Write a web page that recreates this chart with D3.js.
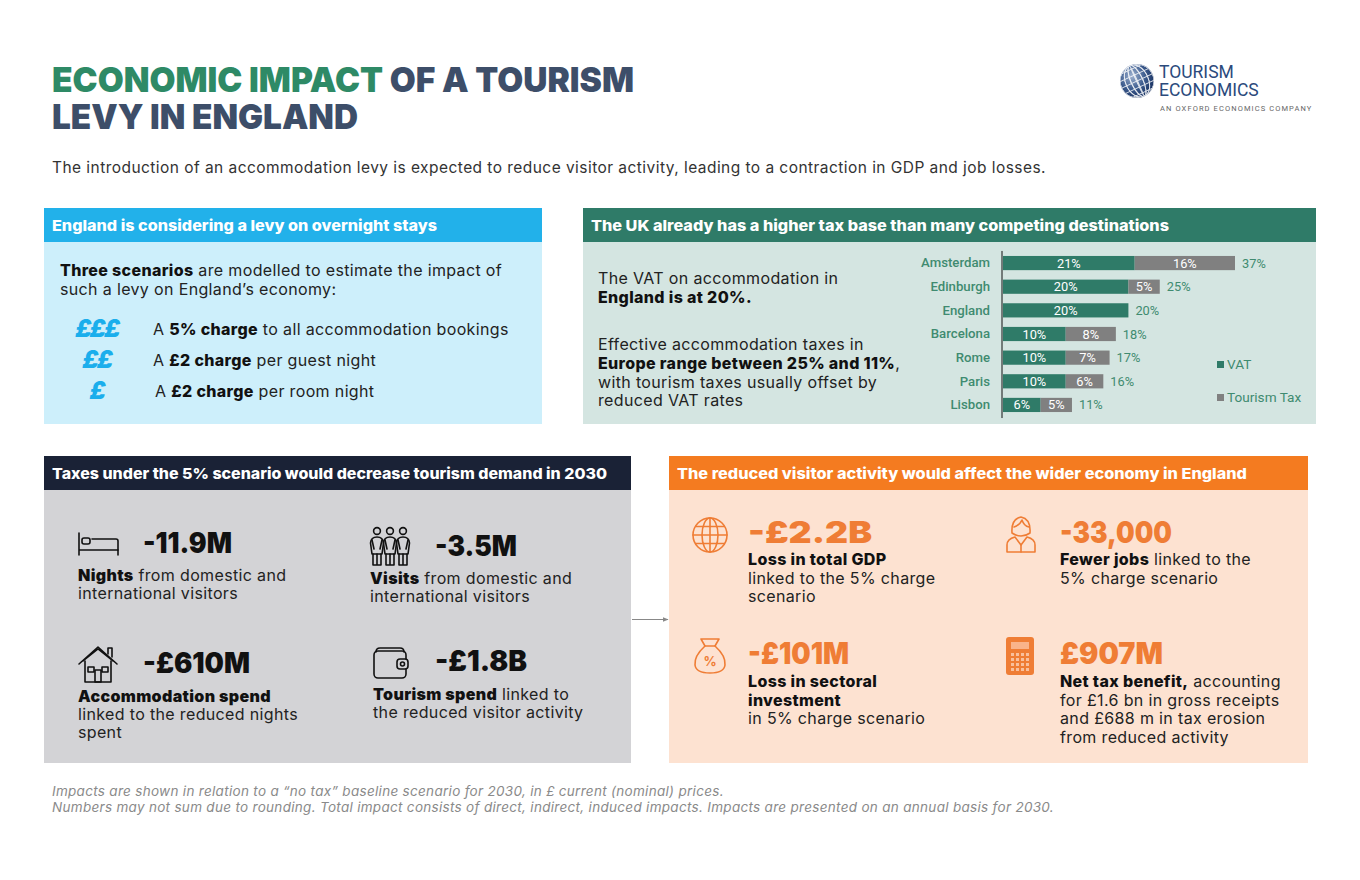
<!DOCTYPE html>
<html>
<head>
<meta charset="utf-8">
<script src="https://cdn.jsdelivr.net/npm/d3@7"></script>
<style>
body { margin: 0; background: #fff; }
svg { display: block; }
text { white-space: pre; }
</style>
</head>
<body>
<div id="chart"></div>
<script>
// ---- data ----
const cities = ["Amsterdam", "Edinburgh", "England", "Barcelona", "Rome", "Paris", "Lisbon"]
const vat = [21, 20, 20, 10, 10, 10, 6]
const tourismTax = [16, 5, 0, 8, 7, 6, 5]
const seriesNames = ["VAT", "Tourism Tax"]

const scenarioIcons = ["£££", "££", "£"]
const scenarioText = [
    "A **5% charge** to all accommodation bookings",
    "A **£2 charge** per guest night",
    "A **£2 charge** per room night"
]

const demandValues = ["-11.9M", "-3.5M", "-£610M", "-£1.8B"]
const demandIcons = ["bed", "people", "house", "wallet"]
const demandText = [
    ["**Nights** from domestic and", "international visitors"],
    ["**Visits** from domestic and", "international visitors"],
    ["**Accommodation spend**", "linked to the reduced nights", "spent"],
    ["**Tourism spend** linked to", "the reduced visitor activity"]
]

const economyValues = ["-£2.2B", "-33,000", "-£101M", "£907M"]
const economyIcons = ["globe", "person", "bag", "calc"]
const economyText = [
    ["**Loss in total GDP**", "linked to the 5% charge", "scenario"],
    ["**Fewer jobs** linked to the", "5% charge scenario"],
    ["**Loss in sectoral**", "**investment**", "in 5% charge scenario"],
    ["**Net tax benefit,** accounting", "for £1.6 bn in gross receipts", "and £688 m in tax erosion", "from reduced activity"]
]

const footnotes = [
    "Impacts are shown in relation to a \u201cno tax\u201d baseline scenario for 2030, in £ current (nominal) prices.",
    "Numbers may not sum due to rounding. Total impact consists of direct, indirect, induced impacts. Impacts are presented on an annual basis for 2030."
]

// ---- setup ----
const W = 1360, H = 880
const BODY = "Inter, 'Noto Sans', sans-serif"
const GREEN = "#2f7b68"
const ORANGE = "#ef7d35"
const TS = 16, LS = 0.35

const svg = d3.select("#chart").append("svg")
    .attr("width", W).attr("height", H)
svg.append("rect").attr("width", W).attr("height", H).attr("fill", "#fff")

// text with **bold** parts
function rich(g, x, y, str, opt) {
    opt = opt || {}
    const t = g.append("text")
        .attr("x", x).attr("y", y)
        .attr("font-family", opt.family || BODY)
        .attr("font-size", opt.size || TS)
        .attr("letter-spacing", opt.ls != null ? opt.ls : LS)
        .attr("fill", opt.fill || "#222")
    str.split("**").forEach((s, i) => {
        if (!s) return
        t.append("tspan")
            .attr("font-weight", i % 2 ? (opt.bold || 700) : 400)
            .attr("fill", i % 2 ? "#111" : null)
            .text(s)
    })
    return t
}

// ---- title ----
const title = svg.append("text")
    .attr("x", 52).attr("y", 92)
    .attr("font-family", BODY).attr("font-size", 34.5).attr("font-weight", 900)
    .attr("textLength", 582).attr("lengthAdjust", "spacingAndGlyphs")
title.append("tspan").attr("fill", "#2e8a66").text("ECONOMIC IMPACT ")
title.append("tspan").attr("fill", "#3d4e69").text("OF A TOURISM")
svg.append("text")
    .attr("x", 52).attr("y", 129)
    .attr("font-family", BODY).attr("font-size", 34.5).attr("font-weight", 900)
    .attr("fill", "#3d4e69")
    .attr("textLength", 306).attr("lengthAdjust", "spacingAndGlyphs")
    .text("LEVY IN ENGLAND")

rich(svg, 52, 173, "The introduction of an accommodation levy is expected to reduce visitor activity, leading to a contraction in GDP and job losses.", {size: 15.5, ls: 0.45, fill: "#333"})

// ---- logo ----
const defs = svg.append("defs")
const grad = defs.append("radialGradient").attr("id", "globeGrad")
    .attr("cx", "35%").attr("cy", "35%").attr("r", "70%")
grad.append("stop").attr("offset", "0%").attr("stop-color", "#9fb3d1")
grad.append("stop").attr("offset", "55%").attr("stop-color", "#3d5c8e")
grad.append("stop").attr("offset", "100%").attr("stop-color", "#1b3463")
defs.append("clipPath").attr("id", "globeClip")
    .append("circle").attr("cx", 1137).attr("cy", 81).attr("r", 17)

const logo = svg.append("g")
logo.append("circle").attr("cx", 1137).attr("cy", 81).attr("r", 17).attr("fill", "url(#globeGrad)")
const grid = logo.append("g").attr("clip-path", "url(#globeClip)")
    .attr("transform", "rotate(-25,1137,81)")
    .attr("fill", "none").attr("stroke", "#fff").attr("stroke-width", 0.9).attr("opacity", 0.85)
d3.range(-3, 4).forEach(k => {
    grid.append("ellipse").attr("cx", 1137).attr("cy", 81).attr("rx", Math.abs(k) * 5.5 + 0.5).attr("ry", 17)
})
d3.range(-2, 3).forEach(k => {
    grid.append("line").attr("x1", 1118).attr("x2", 1156).attr("y1", 81 + k * 6.5).attr("y2", 81 + k * 6.5)
})
logo.append("text").attr("x", 1159).attr("y", 78)
    .attr("font-family", "Roboto, sans-serif").attr("font-size", 17.5).attr("fill", "#2b4a7c")
    .text("TOURISM")
logo.append("text").attr("x", 1159).attr("y", 96)
    .attr("font-family", "Roboto, sans-serif").attr("font-size", 17.5).attr("fill", "#2b4a7c")
    .text("ECONOMICS")
logo.append("text").attr("x", 1160).attr("y", 111)
    .attr("font-family", "Roboto, sans-serif").attr("font-size", 7.5).attr("fill", "#666")
    .attr("letter-spacing", 1.1)
    .text("AN OXFORD ECONOMICS COMPANY")

// ---- panels ----
const panels = [
    {x: 44, y: 208, w: 498, h: 216, head: "#22b1ea", body: "#cdeffb", tw: 385,
        title: "England is considering a levy on overnight stays"},
    {x: 583, y: 208, w: 733, h: 216, head: "#2f7b68", body: "#d4e5e1", tw: 578,
        title: "The UK already has a higher tax base than many competing destinations"},
    {x: 44, y: 456, w: 587, h: 307, head: "#1a2236", body: "#d3d3d6", tw: 555,
        title: "Taxes under the 5% scenario would decrease tourism demand in 2030"},
    {x: 669, y: 456, w: 639, h: 307, head: "#f47b20", body: "#fde2d1", tw: 570,
        title: "The reduced visitor activity would affect the wider economy in England"}
]
panels.forEach(p => {
    svg.append("rect").attr("x", p.x).attr("y", p.y).attr("width", p.w).attr("height", p.h).attr("fill", p.body)
    svg.append("rect").attr("x", p.x).attr("y", p.y).attr("width", p.w).attr("height", 34).attr("fill", p.head)
    svg.append("text").attr("x", p.x + 8).attr("y", p.y + 22.5)
        .attr("font-family", BODY).attr("font-size", 15).attr("font-weight", 800).attr("fill", "#fff")
        .attr("textLength", p.tw).attr("lengthAdjust", "spacingAndGlyphs")
        .text(p.title)
})

// arrow between bottom panels
svg.append("defs").append("marker").attr("id", "arrowHead")
    .attr("viewBox", "0 0 10 10").attr("refX", 9).attr("refY", 5)
    .attr("markerWidth", 6).attr("markerHeight", 6).attr("orient", "auto")
    .append("path").attr("d", "M0,1 L10,5 L0,9 Z").attr("fill", "#888")
svg.append("line").attr("x1", 632).attr("x2", 668).attr("y1", 619.5).attr("y2", 619.5)
    .attr("stroke", "#888").attr("stroke-width", 1).attr("marker-end", "url(#arrowHead)")

// ---- top-left: scenarios ----
rich(svg, 60, 276, "**Three scenarios** are modelled to estimate the impact of", {bold: 800})
rich(svg, 60, 295, "such a levy on England\u2019s economy:")
scenarioIcons.forEach((s, i) => {
    const y = 337 + i * 31
    svg.append("text").attr("x", 97).attr("y", y)
        .attr("text-anchor", "middle")
        .attr("font-family", BODY).attr("font-size", 24).attr("font-weight", 900).attr("font-style", "italic")
        .attr("fill", "#1aaeec").attr("letter-spacing", -1.5)
        .text(s)
    rich(svg, i == 2 ? 155 : 153, y - 2, scenarioText[i], {bold: 800})
})

// ---- top-right: text + chart ----
rich(svg, 598, 284, "The VAT on accommodation in")
rich(svg, 598, 303, "**England is at 20%.**", {bold: 800})
rich(svg, 598, 350, "Effective accommodation taxes in")
rich(svg, 598, 369, "**Europe range between 25% and 11%**,", {bold: 800})
rich(svg, 598, 388, "with tourism taxes usually offset by")
rich(svg, 598, 406, "reduced VAT rates")

const rows = cities.map((c, i) => ({city: c, vat: vat[i], tax: tourismTax[i], total: vat[i] + tourismTax[i]}))

const x = d3.scaleLinear().domain([0, 37]).range([1003, 1235])
const y = d3.scaleBand().domain(cities).range([246.5, 421.5]).padding(0.4)
const LABEL = "#3f8b70"
const chart = svg.append("g").attr("font-family", "Roboto, sans-serif")

chart.selectAll(".vat").data(rows).enter().append("rect")
    .attr("x", x(0)).attr("y", d => y(d.city))
    .attr("width", d => x(d.vat) - x(0)).attr("height", y.bandwidth())
    .attr("fill", GREEN)
chart.selectAll(".tax").data(rows.filter(d => d.tax > 0)).enter().append("rect")
    .attr("x", d => x(d.vat)).attr("y", d => y(d.city))
    .attr("width", d => x(d.total) - x(d.vat)).attr("height", y.bandwidth())
    .attr("fill", "#808080")
chart.selectAll(".vatLab").data(rows).enter().append("text")
    .attr("x", d => (x(0) + x(d.vat)) / 2).attr("y", d => y(d.city) + y.bandwidth() / 2 + 4.5)
    .attr("text-anchor", "middle").attr("font-size", 12.8).attr("fill", "#fff")
    .text(d => d.vat + "%")
chart.selectAll(".taxLab").data(rows.filter(d => d.tax > 0)).enter().append("text")
    .attr("x", d => (x(d.vat) + x(d.total)) / 2).attr("y", d => y(d.city) + y.bandwidth() / 2 + 4.5)
    .attr("text-anchor", "middle").attr("font-size", 12.8).attr("fill", "#fff")
    .text(d => d.tax + "%")
chart.selectAll(".totLab").data(rows).enter().append("text")
    .attr("x", d => x(d.total) + 7).attr("y", d => y(d.city) + y.bandwidth() / 2 + 4.5)
    .attr("font-size", 12.8).attr("fill", LABEL)
    .text(d => d.total + "%")

const yAxis = chart.append("g").attr("transform", `translate(${x(0) - 1},0)`)
    .call(d3.axisLeft(y).tickSize(0).tickPadding(12))
yAxis.select(".domain").attr("stroke", "#111").attr("d", `M0,${y(cities[0]) - 5}V${y(cities[6]) + y.bandwidth() + 6}`)
yAxis.selectAll("text").attr("font-family", "Roboto, sans-serif").attr("font-size", 13.2)
    .attr("font-weight", 500).attr("fill", LABEL)

const legend = chart.selectAll(".leg").data(seriesNames).enter().append("g")
    .attr("transform", (d, i) => `translate(1217,${361 + i * 33})`)
legend.append("rect").attr("width", 7).attr("height", 7).attr("fill", (d, i) => i ? "#808080" : GREEN)
legend.append("text").attr("x", 10).attr("y", 8).attr("font-size", 13.6).attr("fill", LABEL).text(d => d)

// ---- icons ----
function icon(g, type, color) {
    const s = g.append("g").attr("fill", "none").attr("stroke", color)
        .attr("stroke-width", 1.6).attr("stroke-linejoin", "round").attr("stroke-linecap", "round")
    if (type == "bed") {
        s.append("path").attr("d", "M1,0V22 M1,17H40V22")
        s.append("rect").attr("x", 4).attr("y", 5).attr("width", 8).attr("height", 6).attr("rx", 2)
        s.append("path").attr("d", "M14,6H38Q40,6 40,8V17")
    } else if (type == "people") {
        [7, 20, 33].forEach(c => {
            s.append("circle").attr("cx", c).attr("cy", 4).attr("r", 3.4)
            s.append("path").attr("d", `M${c - 5},27L${c - 6.5},16Q${c - 6},10 ${c},10Q${c + 6},10 ${c + 6.5},16L${c + 5},27Z`)
            s.append("path").attr("d", `M${c - 4},27V38H${c + 4}V27M${c},27V38`)
            s.append("path").attr("d", `M${c - 5},13L${c - 3},22M${c + 5},13L${c + 3},22`)
        })
    } else if (type == "house") {
        s.append("path").attr("d", "M1,19L20,2L39,19M5,16L20,4L35,16")
        s.append("path").attr("d", "M30,9V3H34V12")
        s.append("path").attr("d", "M7,16V37H33V16")
        s.append("rect").attr("x", 10).attr("y", 22).attr("width", 6).attr("height", 5)
        s.append("rect").attr("x", 24).attr("y", 22).attr("width", 6).attr("height", 5)
        s.append("rect").attr("x", 17).attr("y", 25).attr("width", 6).attr("height", 12)
    } else if (type == "wallet") {
        s.append("rect").attr("x", 1).attr("y", 4).attr("width", 32).attr("height", 27).attr("rx", 4)
        s.append("path").attr("d", "M3,5Q3,1 7,1H27Q31,1 31,5")
        s.append("rect").attr("x", 24).attr("y", 12).attr("width", 11).attr("height", 10).attr("rx", 3).attr("fill", "#d3d3d6")
        s.append("circle").attr("cx", 29.5).attr("cy", 17).attr("r", 2)
    } else if (type == "globe") {
        s.append("circle").attr("cx", 18).attr("cy", 18).attr("r", 17)
        s.append("ellipse").attr("cx", 18).attr("cy", 18).attr("rx", 8).attr("ry", 17)
        s.append("path").attr("d", "M18,1V35M1,18H35M4,9.5H32M4,26.5H32")
    } else if (type == "person") {
        s.append("path").attr("d", "M6,18Q5,4 15,2Q25,4 24,18Q20,21 15,21Q10,21 6,18Z")
        s.append("path").attr("d", "M8,12Q14,10 16,5Q18,11 23,12")
        s.append("path").attr("d", "M1,37V30Q1,24 9,22L15,30L21,22Q29,24 29,30V37Z")
        s.append("path").attr("d", "M15,30V37")
    } else if (type == "bag") {
        s.append("path").attr("d", "M12,9L8,2H26L22,9Z")
        s.append("path").attr("d", "M12,9Q1,19 2,28Q3,36 17,36Q31,36 32,28Q33,19 22,9")
        s.append("text").attr("x", 17).attr("y", 29).attr("text-anchor", "middle")
            .attr("stroke", "none").attr("fill", color).attr("font-family", BODY)
            .attr("font-size", 13).attr("font-weight", 700).text("%")
    } else if (type == "calc") {
        s.append("rect").attr("width", 28).attr("height", 38).attr("rx", 3).attr("fill", color).attr("stroke", "none")
        s.append("rect").attr("x", 5).attr("y", 5).attr("width", 18).attr("height", 7).attr("fill", "#f9b38a").attr("stroke", "none")
        d3.range(4).forEach(c => d3.range(4).forEach(r => {
            s.append("rect").attr("x", 5 + c * 5).attr("y", 16 + r * 5).attr("width", 3).attr("height", 3)
                .attr("fill", "#f9c09c").attr("stroke", "none")
        }))
    }
}

// ---- bottom-left cards ----
const demandPos = [
    {ix: 78, iy: 533, vx: 143, vy: 553, vw: 89, ty: 581},
    {ix: 370, iy: 527, vx: 435, vy: 556, vw: 82, ty: 584},
    {ix: 78, iy: 645, vx: 143, vy: 673, vw: 107, ty: 702},
    {ix: 373, iy: 647, vx: 435, vy: 671, vw: 92, ty: 700}
]
demandValues.forEach((v, i) => {
    const p = demandPos[i]
    icon(svg.append("g").attr("transform", `translate(${p.ix},${p.iy})`), demandIcons[i], "#111")
    svg.append("text").attr("x", p.vx).attr("y", p.vy)
        .attr("font-family", BODY).attr("font-size", 28).attr("font-weight", 900).attr("fill", "#111")
        .attr("textLength", p.vw).attr("lengthAdjust", "spacingAndGlyphs")
        .text(v)
    demandText[i].forEach((l, j) => rich(svg, p.ix, p.ty + j * 18, l, {bold: 900}))
})

// ---- bottom-right cards ----
const econPos = [
    {ix: 692, iy: 517, vx: 748, vy: 543, vw: 124, ty: 565},
    {ix: 1006, iy: 515, vx: 1060, vy: 543, vw: 112, ty: 565},
    {ix: 693, iy: 637, vx: 748, vy: 664, vw: 101, ty: 687},
    {ix: 1006, iy: 637, vx: 1060, vy: 664, vw: 103, ty: 687}
]
economyValues.forEach((v, i) => {
    const p = econPos[i]
    icon(svg.append("g").attr("transform", `translate(${p.ix},${p.iy})`), economyIcons[i], ORANGE)
    svg.append("text").attr("x", p.vx).attr("y", p.vy)
        .attr("font-family", BODY).attr("font-size", 30).attr("font-weight", 900).attr("fill", ORANGE)
        .attr("textLength", p.vw).attr("lengthAdjust", "spacingAndGlyphs")
        .text(v)
    economyText[i].forEach((l, j) => rich(svg, p.vx, p.ty + j * 18.7, l, {bold: 800}))
})

// ---- footnotes ----
footnotes.forEach((f, i) => {
    svg.append("text").attr("x", 52).attr("y", 796 + i * 16)
        .attr("font-family", BODY).attr("font-size", 13.5).attr("font-style", "italic")
        .attr("letter-spacing", 0.3)
        .attr("fill", "#8a8a8a")
        .text(f)
})
</script>
</body>
</html>
